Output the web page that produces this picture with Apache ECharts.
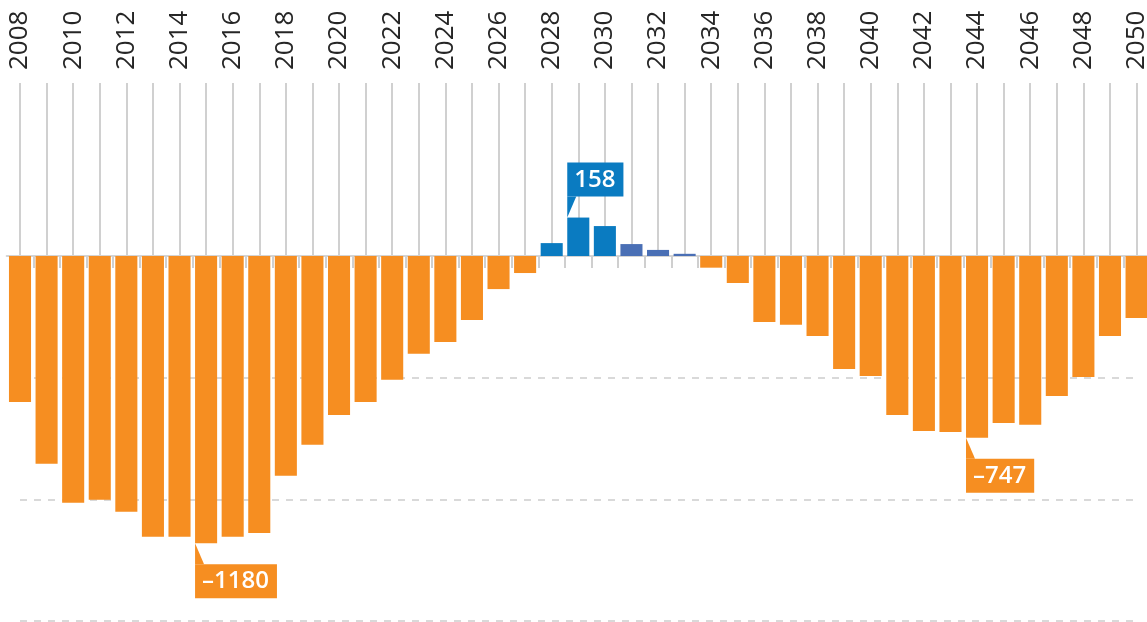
<!DOCTYPE html>
<html>
<head>
<meta charset="utf-8">
<script src="https://cdn.jsdelivr.net/npm/echarts@6/dist/echarts.min.js"></script>
<style>
  html, body { margin: 0; padding: 0; background: #fff; }
  #chart { width: 1147px; height: 622px; }
</style>
</head>
<body>
<div id="chart"></div>
<script>
// categories
var years = ['2008','2009','2010','2011','2012','2013','2014','2015','2016','2017',
             '2018','2019','2020','2021','2022','2023','2024','2025','2026','2027',
             '2028','2029','2030','2031','2032','2033','2034','2035','2036','2037',
             '2038','2039','2040','2041','2042','2043','2044','2045','2046','2047',
             '2048','2049','2050'];
// balance per year
var values = [-600, -854, -1014, -1002, -1051, -1154, -1154, -1180, -1154, -1138,
              -903, -776, -653, -600, -509, -402, -353, -263, -136, -70,
              53, 158, 123, 49, 25, 9, -48, -111, -271, -283,
              -329, -464, -493, -653, -719, -723, -747, -686, -694, -575,
              -497, -329, -255];
// annotated bars
var calloutYears = ['2015', '2029', '2044'];
var calloutValues = [-1180, 158, -747];
// dashed reference levels
var yMin = -1500, yMax = 0, yStep = 500;

var ORANGE = '#f68e21', BLUE = '#0a7bc1', SLATE = '#4a6fb5';
var BAR_RATIO = 0.83;

function barColor(year, v) {
  if (v < 0) return ORANGE;
  return +year <= 2030 ? BLUE : SLATE;
}
function fmt(v) { return v < 0 ? '\u2013' + Math.abs(v) : String(v); }

var pxPerUnit = 365 / 1500;
var catW = 26.585;

var chart = echarts.init(document.getElementById('chart'));
chart.setOption({
  animation: false,
  backgroundColor: '#fff',
  grid: [
    // bars
    { left: 20 - catW / 2, width: catW * years.length, top: 256 - 700 * pxPerUnit, height: 2200 * pxPerUnit, outerBoundsMode: 'none' },
    // vertical guides + year labels
    { left: 20, width: catW * (years.length - 1), top: 83, height: 173, outerBoundsMode: 'none' },
    // dashed levels
    { left: 20, width: catW * (years.length - 1), top: 256, height: 365, outerBoundsMode: 'none' }
  ],
  xAxis: [
    {
      gridIndex: 0, type: 'category', data: years,
      axisLine: { onZero: true, lineStyle: { color: '#d4d4d4', width: 2 } },
      axisTick: {
        show: true, length: 12, lineStyle: { color: '#cfcfcf', width: 2 },
        interval: function (i) { return i > 0; }
      },
      axisLabel: { show: false },
      splitLine: { show: false }
    },
    {
      gridIndex: 1, type: 'category', data: years, position: 'top', boundaryGap: false,
      axisLine: { show: false },
      axisTick: { show: false },
      axisLabel: {
        interval: 1, rotate: 90, margin: 13,
        color: '#262626', fontSize: 26, fontFamily: '"Open Sans", sans-serif'
      },
      splitLine: { show: true, interval: 0, lineStyle: { color: '#d0d0d0', width: 2 } }
    },
    {
      gridIndex: 2, type: 'category', data: years, boundaryGap: false, show: false
    }
  ],
  yAxis: [
    { gridIndex: 0, type: 'value', min: -1500, max: 700, show: false, splitLine: { show: false } },
    { gridIndex: 1, type: 'value', min: 0, max: 1, show: false, splitLine: { show: false } },
    {
      gridIndex: 2, type: 'value', min: yMin, max: yMax, interval: yStep,
      axisLine: { show: false }, axisTick: { show: false }, axisLabel: { show: false },
      splitLine: { show: true, lineStyle: { color: '#d9d9d9', width: 2, type: [7, 7] } }
    }
  ],
  series: [
    {
      type: 'bar', xAxisIndex: 0, yAxisIndex: 0,
      barWidth: (BAR_RATIO * 100) + '%',
      data: values.map(function (v, i) {
        return { value: v, itemStyle: { color: barColor(years[i], v) } };
      })
    },
    {
      type: 'custom', xAxisIndex: 0, yAxisIndex: 0, z: 5,
      data: calloutYears.map(function (y, i) { return [y, calloutValues[i]]; }),
      renderItem: function (params, api) {
        var v = api.value(1);
        var year = calloutYears[params.dataIndex];
        var p = api.coord([api.value(0), v]);
        var bw = api.size([1, 0])[0] * BAR_RATIO;
        var x0 = p[0] - bw / 2;
        var tail = 21;
        var yEnd = v < 0 ? p[1] + tail : p[1] - tail;
        var col = barColor(year, v);
        return {
          type: 'group',
          children: [
            {
              type: 'polygon',
              shape: { points: [[x0, p[1]], [x0, yEnd], [x0 + 9, yEnd]] },
              style: { fill: col }
            },
            {
              type: 'text', x: x0, y: yEnd,
              style: {
                text: fmt(v), fill: '#fff', backgroundColor: col,
                padding: [5, 8, 4, 7], fontSize: 24, lineHeight: 25, fontWeight: 600,
                fontFamily: '"Open Sans", sans-serif',
                align: 'left', verticalAlign: v < 0 ? 'top' : 'bottom'
              }
            }
          ]
        };
      }
    }
  ]
});
</script>
</body>
</html>
